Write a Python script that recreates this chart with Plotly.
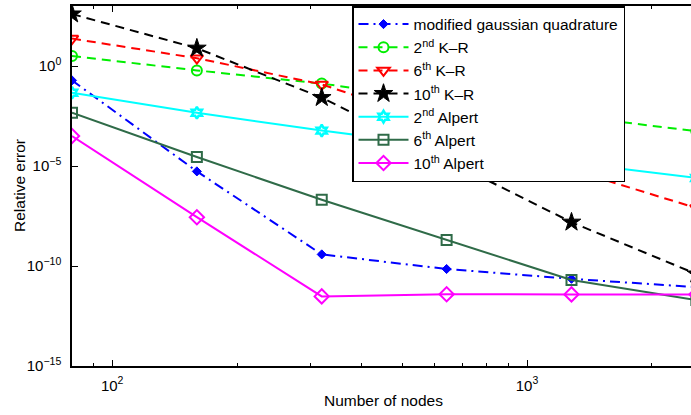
import math
import plotly.graph_objects as go

# number of quadrature nodes
nodes = [80, 160, 320, 640, 1280, 2560]

# log10 of relative error for each method
err_mgq = [-0.72, -5.27, -9.42, -10.15, -10.64, -11.06]
err_kr2 = [0.50, -0.22, -0.88, -1.75, -2.50, -3.26]
err_kr6 = [1.37, 0.39, -0.92, -3.00, -5.19, -7.10]
err_kr10 = [2.60, 0.89, -1.58, -4.70, -7.81, -10.40]
err_al2 = [-1.34, -2.34, -3.23, -4.03, -4.84, -5.60]
err_al6 = [-2.34, -4.55, -6.69, -8.70, -10.70, -11.70]
err_al10 = [-3.50, -7.56, -11.52, -11.41, -11.42, -11.42]

legend_names = [
    "modified gaussian quadrature",
    "2<sup>nd</sup> K\u2013R",
    "6<sup>th</sup> K\u2013R",
    "10<sup>th</sup> K\u2013R",
    "2<sup>nd</sup> Alpert",
    "6<sup>th</sup> Alpert",
    "10<sup>th</sup> Alpert",
]

y_tick_vals = [1e-15, 1e-10, 1e-5, 1]
y_tick_text = ["10<sup>\u221215</sup>", "10<sup>\u221210</sup>", "10<sup>\u22125</sup>", "10<sup>0</sup>"]
x_tick_vals = [100, 1000]
x_tick_text = ["10<sup>2</sup>", "10<sup>3</sup>"]
x_minor_vals = [90, 200, 300, 400, 500, 600, 700, 800, 900, 2000]

FONT = "Liberation Sans, Arial, Helvetica, sans-serif"
FS = 15.5

styles = [
    (err_mgq, "#0000ff", "10px,5px,2px,5px", "diamond", 7, 1),
    (err_kr2, "#00ee00", "9px,6px", "circle-open", 10, 2),
    (err_kr6, "#ff0000", "9px,6px", "triangle-down-open", 11, 2),
    (err_kr10, "#000000", "9px,6px", "star", 14, 1),
    (err_al2, "#00ffff", "solid", "hexagram-open", 9, 2.5),
    (err_al6, "#2f6b48", "solid", "square-open", 10, 2),
    (err_al10, "#ff00ff", "solid", "diamond-open", 11, 2),
]

fig = go.Figure()
for name, (vals, color, dash, symbol, msize, mlw) in zip(legend_names, styles):
    fig.add_trace(go.Scatter(
        x=nodes,
        y=[10 ** v for v in vals],
        mode="lines+markers",
        name=name,
        line=dict(color=color, width=2, dash=dash),
        marker=dict(symbol=symbol, size=msize, color=color,
                    line=dict(color=color, width=mlw)),
    ))

x_lo = math.log10(80)
x_hi = math.log10(2485)

fig.update_layout(
    width=691,
    height=415,
    margin=dict(l=72, r=0, t=6, b=49),
    paper_bgcolor="white",
    plot_bgcolor="white",
    font=dict(family=FONT, size=FS, color="black"),
    showlegend=True,
    legend=dict(
        x=(352 - 72) / 619, y=1, xanchor="left", yanchor="top",
        bgcolor="white", bordercolor="black", borderwidth=1.5,
        font=dict(family=FONT, size=FS, color="black"),
        itemwidth=50,
        tracegroupgap=0,
    ),
    xaxis=dict(
        type="log",
        range=[x_lo, x_hi],
        tickvals=x_tick_vals,
        ticktext=x_tick_text,
        ticks="inside",
        ticklen=6,
        tickwidth=1,
        tickcolor="black",
        ticklabelstandoff=5,
        showline=True,
        linecolor="black",
        linewidth=1.5,
        mirror="ticks",
        showgrid=False,
        zeroline=False,
        minor=dict(tickmode="array", tickvals=x_minor_vals, ticks="inside",
                   ticklen=3, tickcolor="black", showgrid=False),
        tickfont=dict(family=FONT, size=15),
    ),
    yaxis=dict(
        type="log",
        range=[-15, 3],
        tickvals=y_tick_vals,
        ticktext=y_tick_text,
        ticks="inside",
        ticklen=6,
        tickwidth=1,
        tickcolor="black",
        ticklabelstandoff=6,
        showline=True,
        linecolor="black",
        linewidth=1.5,
        mirror=False,
        showgrid=False,
        zeroline=False,
        tickfont=dict(family=FONT, size=15),
    ),
    annotations=[
        dict(text="Relative error", xref="paper", yref="paper",
             x=(19 - 72) / 619, y=0.5, xanchor="center", yanchor="middle",
             textangle=-90, showarrow=False, font=dict(family=FONT, size=FS)),
        dict(text="Number of nodes", xref="paper", yref="paper",
             x=(383 - 72) / 619, y=-(400 - 366) / 360, xanchor="center", yanchor="middle",
             showarrow=False, font=dict(family=FONT, size=FS)),
    ],
)

fig.write_html("out.html")
